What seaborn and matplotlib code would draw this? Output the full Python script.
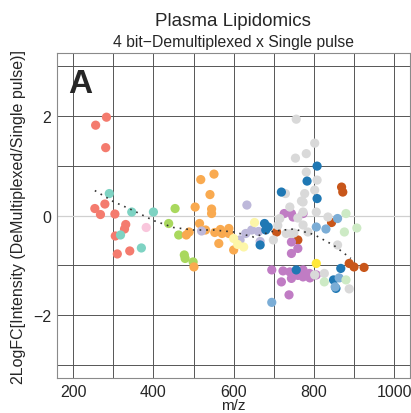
"""
Plasma lipidomics: log2 fold change of 4 bit-demultiplexed vs single pulse
intensities, plotted against m/z and coloured by lipid class.
"""

import matplotlib
matplotlib.use("Agg")
import matplotlib.pyplot as plt
import numpy as np
import pandas as pd
import seaborn as sns

# ── Data ─────────────────────────────────────────────────────────────────────
fa_mz = [256, 283, 281, 279, 254, 268, 304, 331, 328, 305, 341, 310]
fa_fc = [1.81, 1.97, 1.36, 0.23, 0.14, 0.02, 0.03, -0.18, -0.27, -0.41, -0.71, -0.77]

car_mz = [290, 346, 400, 318, 370]
car_fc = [0.44, 0.07, 0.07, -0.39, -0.65]

mg_mz = [382]
mg_fc = [-0.24]

lpe_mz = [454, 438, 463, 477, 479, 499]
lpe_fc = [0.14, -0.16, -0.39, -0.79, -0.86, -0.93]

lpc_mz = [551, 518, 541, 504, 545, 545, 515, 489, 482, 530, 567, 588, 571, 588,
          563, 501, 600, 553]
lpc_fc = [0.83, 0.72, 0.42, 0.17, 0.13, 0.04, -0.16, -0.33, -0.39, -0.29, -0.28,
          -0.26, -0.36, -0.36, -0.56, -1.03, -0.69, -0.34]

cer_mz = [520, 633, 616, 645, 662, 666, 630]
cer_fc = [-0.31, 0.21, -0.49, -0.29, -0.32, -0.52, -0.36]

sm_mz = [600, 625, 652, 610]
sm_fc = [-0.46, -0.63, -0.14, -0.58]

pe_mz = [677, 686, 680, 666, 756, 867, 808, 783, 808, 719, 849, 855]
pe_fc = [-0.16, -0.23, -0.29, -0.59, -1.09, -1.06, 0.99, 0.69, 0.34, 0.47,
         -1.29, -1.46]

pi_mz = [707, 760, 869, 872, 844, 888, 900, 925]
pi_fc = [-0.33, -0.49, 0.57, 0.47, -0.14, -0.96, -1.03, -1.04]

tg_mz = [695, 723, 740, 719, 744, 738, 773, 789, 773, 806, 744, 760, 744, 726,
         748, 744, 773, 760, 790]
tg_fc = [-1.09, -1.11, -1.13, -1.33, -1.26, -1.59, -1.23, -1.16, -1.09, -1.19,
         -0.76, -0.66, -0.53, 0.04, -0.03, 0.04, 0.04, -1.20, -1.25]

pc_mz = [756, 802, 781, 754, 781, 808, 802, 729, 777, 769, 740, 773, 773, 806,
         715, 773, 785, 699, 731, 744, 835, 859, 802, 826, 888, 760, 710, 750]
pc_fc = [1.93, 1.45, 1.24, 1.15, 0.87, 0.71, 0.51, 0.44, 0.44, 0.29, 0.17, 0.27,
         0.07, 0.07, -0.06, -0.19, -0.33, -0.49, -0.36, -0.36, -0.03, -0.59,
         -1.19, -1.16, -1.47, -0.05, -0.20, -0.35]

peo_mz = [695, 806, 830, 859, 863, 853]
peo_fc = [-1.74, -0.23, -0.27, -0.06, -1.25, -1.43]

ps_mz = [826, 880, 880, 876, 907]
ps_fc = [-1.33, -1.29, 0.04, -0.33, -0.25]

dg_mz = [806]
dg_fc = [-0.96]

# loess trend (dotted line)
trend_mz = [254, 300, 350, 400, 450, 500, 550, 600, 650, 700, 750, 800, 850, 892]
trend_fc = [0.50, 0.28, 0.10, -0.10, -0.24, -0.29, -0.29, -0.33, -0.43, -0.31,
            -0.27, -0.38, -0.60, -0.86]

classes = {
    "FA":   (fa_mz,  fa_fc,  "#F47B6E"),
    "CAR":  (car_mz, car_fc, "#7ED3C3"),
    "MG":   (mg_mz,  mg_fc,  "#F9C6DC"),
    "LPE":  (lpe_mz, lpe_fc, "#A9D85E"),
    "LPC":  (lpc_mz, lpc_fc, "#F9AA50"),
    "Cer":  (cer_mz, cer_fc, "#BDB8DA"),
    "SM":   (sm_mz,  sm_fc,  "#FDF6A8"),
    "PI":   (pi_mz,  pi_fc,  "#C8561A"),
    "TG":   (tg_mz,  tg_fc,  "#C07CC4"),
    "PC":   (pc_mz,  pc_fc,  "#D9D9D9"),
    "PE":   (pe_mz,  pe_fc,  "#1F78B4"),
    "PE-O": (peo_mz, peo_fc, "#7BADD6"),
    "PS":   (ps_mz,  ps_fc,  "#CDEAC5"),
    "DG":   (dg_mz,  dg_fc,  "#FFE839"),
}

df = pd.concat(
    [pd.DataFrame({"mz": v[0], "fc": v[1], "cls": k}) for k, v in classes.items()],
    ignore_index=True,
)
palette = {k: v[2] for k, v in classes.items()}

# ── Plot ─────────────────────────────────────────────────────────────────────
sns.set_style("white")
plt.rcParams["font.family"] = ["Liberation Sans", "DejaVu Sans"]

fig = plt.figure(figsize=(4.11, 4.14), dpi=100)
ax = fig.add_axes([0.139, 0.084, 0.859, 0.786])

grid_col = "#555555"
ax.set_xlim(160, 1040)
ax.set_ylim(-3.26, 3.26)
ax.set_xticks([200, 400, 600, 800, 1000])
ax.set_xticks([300, 500, 700, 900], minor=True)
ax.set_yticks([-2, 0, 2])
ax.set_yticks([-3, -1, 1, 3], minor=True)
ax.grid(True, which="both", color=grid_col, lw=0.7)
ax.set_axisbelow(True)
ax.axhline(0, color="#d0d0d0", lw=0.9, zorder=1)
ax.tick_params(which="both", direction="out", length=3, width=0.7,
               color=grid_col, labelsize=11.5, pad=1.5)
for side, sp in ax.spines.items():
    sp.set_color("#8a8a8a")
    sp.set_linewidth(0.8)

sns.scatterplot(data=df, x="mz", y="fc", hue="cls", palette=palette,
                s=44, linewidth=0, alpha=1, legend=False, ax=ax, zorder=3)
ax.plot(trend_mz, trend_fc, ls=(0, (1, 3)), color="#333333", lw=1.2, zorder=4)

ax.set_xlabel("m/z", fontsize=11, labelpad=-1)
ax.set_ylabel("2LogFC[Intensity (DeMultiplexed/Single pulse)]", fontsize=11.5,
              labelpad=5)

ax.text(0.031, 0.905, "A", transform=ax.transAxes, fontsize=24,
        fontweight="bold", ha="left", va="center")

fig.text(0.567, 0.947, "Plasma Lipidomics", ha="center", va="center",
         fontsize=13.5)
fig.text(0.567, 0.898, "4 bit\u2212Demultiplexed x Single pulse", ha="center",
         va="center", fontsize=11.3)

fig.savefig("out.png", dpi=100)
plt.close(fig)
